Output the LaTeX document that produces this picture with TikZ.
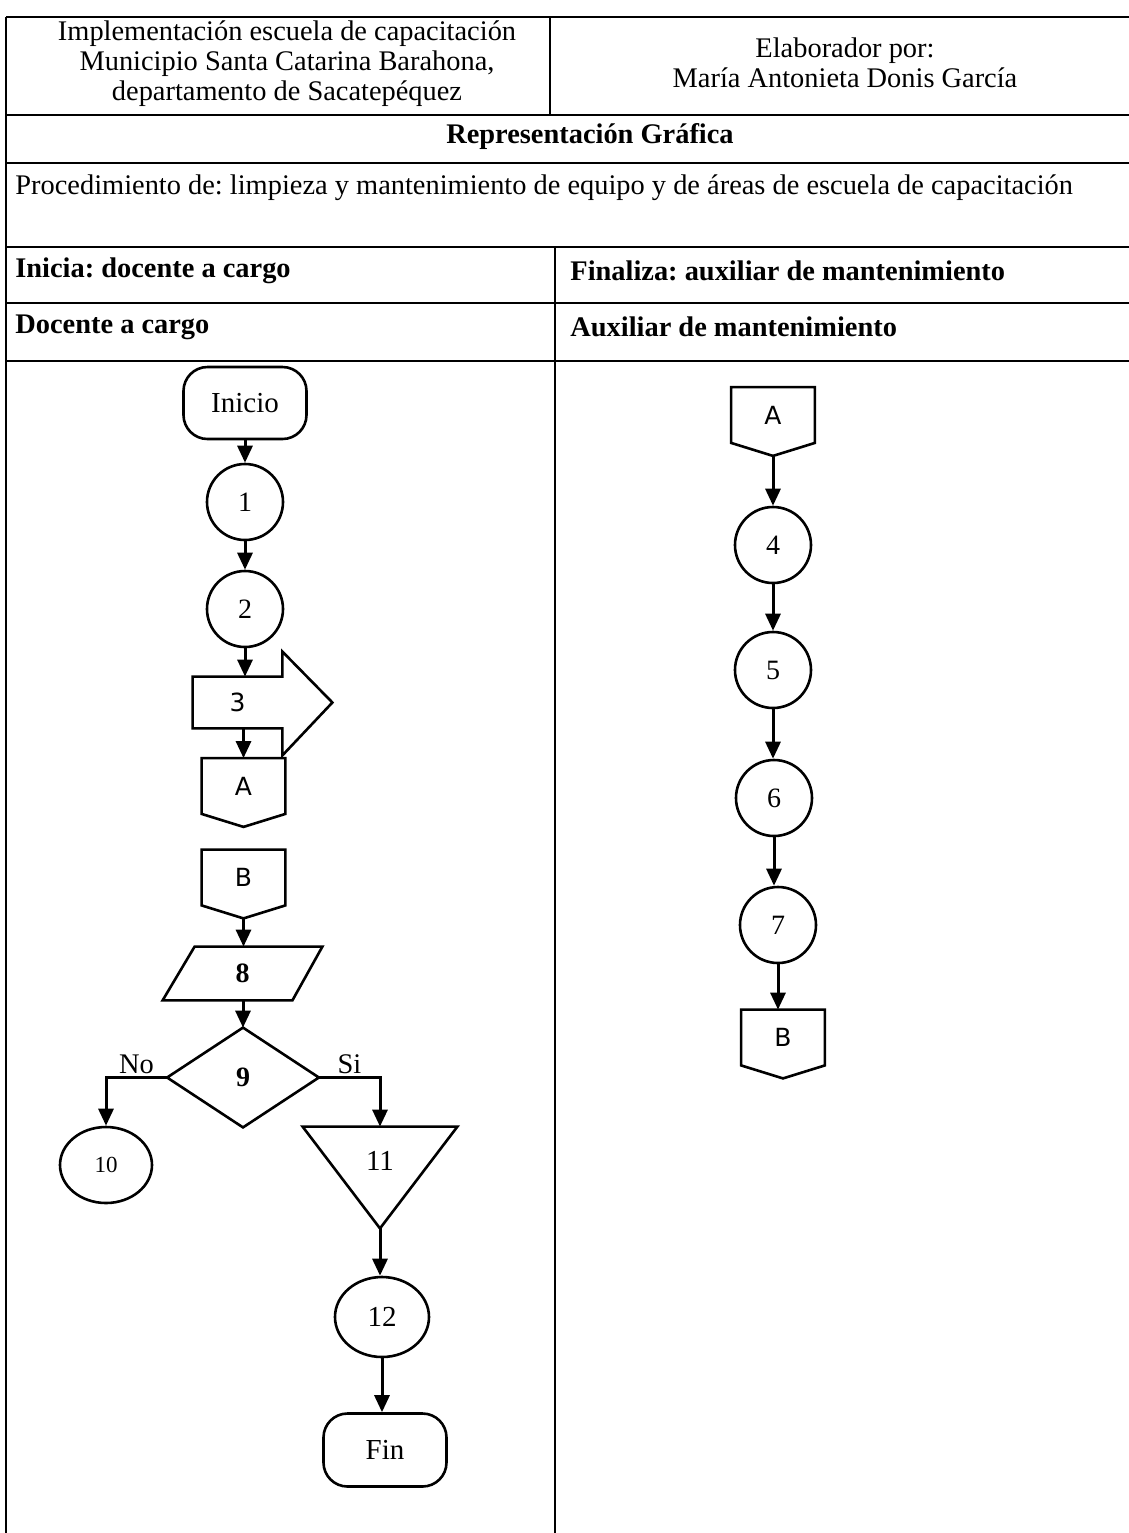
\documentclass[tikz,border=0pt]{standalone}
\usepackage{fontspec}
\setmainfont{Liberation Serif}
\newfontfamily\symsans{DejaVu Sans}
\usetikzlibrary{arrows.meta,shapes.geometric}
\frenchspacing
\newcommand\offpagedraw[1]{\draw[shp] (#1.north west) -- (#1.north east) -- (#1.south east) -- ([yshift=-6.5pt]#1.south) coordinate (#1P) -- (#1.south west) -- cycle;}
\begin{document}
\begin{tikzpicture}[x=0.5pt,y=-0.5pt,
  tbl/.style={line width=0.9pt},
  shp/.style={line width=1.3pt},
  arr/.style={line width=1.5pt,-{Triangle[width=7.5pt,length=8.5pt]}},
  txt/.style={font=\fontsize{14.2}{15}\selectfont, inner sep=0pt},
  btxt/.style={font=\fontsize{14.2}{15}\selectfont\bfseries, inner sep=0pt},
  term/.style={draw, shp, rectangle, rounded corners=12pt, minimum width=61.5pt, minimum height=36pt, font=\fontsize{14.5}{15}\selectfont, inner sep=0pt},
  circ/.style={draw, shp, ellipse, minimum width=38pt, minimum height=38pt, inner sep=0pt, font=\fontsize{14}{15}\selectfont},
  offpage/.style={rectangle, minimum width=41.5pt, minimum height=27.5pt, inner sep=0pt, font=\symsans\fontsize{12.5}{13}\selectfont},
  plain/.style={rectangle, inner sep=0pt}
]
\useasboundingbox (0,0) rectangle (1129,1533);

% ---------- table ----------
\foreach \yy in {17,115,163,247,303,361}{\draw[tbl] (6,\yy) -- (1140,\yy);}
\draw[tbl] (6,17) -- (6,1545);
\draw[tbl] (550,17) -- (550,115);
\draw[tbl] (555,247) -- (555,1545);

\node[txt, align=center] (h1) at (287,64) {Implementación escuela de capacitación\\Municipio Santa Catarina Barahona,\\departamento de Sacatepéquez};
\node[txt, align=center] (h2) at (845,63) {Elaborador por:\\María Antonieta Donis García};
\node[btxt] (h3) at (590,137) {Representación Gráfica};
\node[txt, anchor=west] (h4) at (15,188) {Procedimiento de: limpieza y mantenimiento de equipo y de áreas de escuela de capacitación};
\node[btxt, anchor=west] (h5) at (15,271) {Inicia: docente a cargo};
\node[btxt, anchor=west] (h6) at (570,271) {Finaliza: auxiliar de mantenimiento};
\node[btxt, anchor=west] (h7) at (15,327) {Docente a cargo};
\node[btxt, anchor=west] (h8) at (570,327) {Auxiliar de mantenimiento};

% ---------- left lane ----------
\node[term] (ini) at (245,403) {Inicio};
\node[circ] (c1) at (245,502) {1};
\node[circ] (c2) at (245,609) {2};
\node[plain, minimum width=44.5pt, minimum height=25.5pt, font=\symsans\fontsize{12.5}{13}\selectfont] (n3) at (237.5,702.5) {3};
\draw[shp] (n3.north west) -- (n3.north east) -- ([yshift=12.5pt]n3.north east) -- ([xshift=25pt]n3.east) -- ([yshift=-13.5pt]n3.south east) -- (n3.south east) -- (n3.south west) -- cycle;
\node[offpage] (lA) at (243.5,786) {A};
\offpagedraw{lA}
\node[offpage] (lB) at (243.5,877.5) {B};
\offpagedraw{lB}
\node[plain, minimum width=79.5pt, minimum height=26.5pt, font=\fontsize{14}{15}\selectfont\bfseries] (p8) at (242.5,973.5) {8};
\draw[shp] ([xshift=16pt]p8.north west) -- (p8.north east) -- ([xshift=-15pt]p8.south east) -- (p8.south west) -- cycle;
\node[plain, minimum width=75.5pt, minimum height=49.5pt, font=\fontsize{14}{15}\selectfont\bfseries] (d9) at (243,1077.5) {9};
\draw[shp] (d9.north) -- (d9.east) -- (d9.south) -- (d9.west) -- cycle;
\node[circ, minimum width=46pt, minimum height=38pt, font=\fontsize{11.5}{12}\selectfont] (c10) at (106,1165) {10};
\node[plain, minimum width=77pt, minimum height=34pt, font=\fontsize{14.5}{15}\selectfont] (t11) at (380,1161) {11};
\draw[shp] (t11.north west) -- (t11.north east) -- ([yshift=-16.5pt]t11.south) coordinate (t11P) -- cycle;
\node[circ, minimum width=47pt, minimum height=40pt, font=\fontsize{14.5}{15}\selectfont] (c12) at (382,1317) {12};
\node[term, minimum height=36.5pt] (fin) at (385,1450) {Fin};

\draw[arr] (ini.south) -- (ini.south |- c1.north);
\draw[arr] (c1.south) -- (c1.south |- c2.north);
\draw[arr] (c2.south) -- (c2.south |- n3.north);
\draw[arr] (lA.north |- n3.south) -- (lA.north);
\draw[arr] (lBP) -- (lBP |- p8.north);
\draw[arr] (d9.north |- p8.south) -- (d9.north);
\draw[arr] (d9.west) -| node[pos=0.25, above=1pt, txt] (lno) {No} (c10.north);
\draw[arr] (d9.east) -| node[pos=0.25, above=1pt, txt] (lsi) {Si} (t11.north);
\draw[arr] (t11P) -- (t11P |- c12.north);
\draw[arr] (c12.south) -- (c12.south |- fin.north);

% ---------- right lane ----------
\node[offpage] (rA) at (773,415) {A};
\offpagedraw{rA}
\node[circ] (c4) at (773,545) {4};
\node[circ] (c5) at (773,670) {5};
\node[circ] (c6) at (774,798) {6};
\node[circ] (c7) at (778,925) {7};
\node[offpage] (rB) at (783,1037.5) {B};
\offpagedraw{rB}

\draw[arr] (rAP) -- (rAP |- c4.north);
\draw[arr] (c4.south) -- (c4.south |- c5.north);
\draw[arr] (c5.south) -- (c5.south |- c6.north);
\draw[arr] (c6.south) -- (c6.south |- c7.north);
\draw[arr] (c7.south) -- (c7.south |- rB.north);
\end{tikzpicture}
\end{document}
